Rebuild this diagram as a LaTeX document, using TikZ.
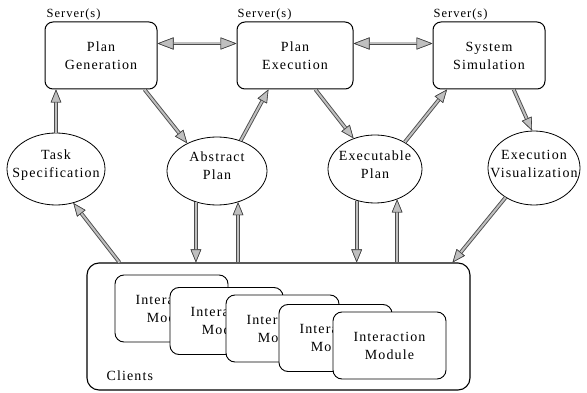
\documentclass[tikz,border=0pt]{standalone}
\usepackage{fontspec}
\setmainfont{Liberation Serif}[LetterSpace=8]
\usetikzlibrary{arrows.meta,shapes.geometric,calc}
\tikzset{
  >={Triangle[length=13pt,width=10.5pt,line width=0.6pt,color=black!75,fill=gray!50]},
  fat/.style={#1, preaction={draw=black!70, line width=3.8pt, #1}, draw=gray!50, line width=2.0pt},
  fat/.default={->},
  bigtip/.style={>={Triangle[length=16pt,width=12pt,line width=0.6pt,color=black!75,fill=gray!50]}},
  txt/.style={font=\fontsize{14}{18}\selectfont, align=center},
  srv/.style={draw, line width=1pt, rounded corners=8pt, minimum width=112pt, minimum height=67pt, inner sep=0pt, txt},
  ell/.style={draw, ellipse, line width=0.8pt, inner sep=0pt},
  mod/.style={draw, fill=white, line width=0.9pt, rounded corners=9pt, minimum width=113pt, minimum height=67pt, inner sep=0pt, txt},
  lbl/.style={font=\fontsize{12.5}{14}\selectfont, inner sep=1pt, anchor=south west}
}
\begin{document}
\begin{tikzpicture}[x=1pt,y=-1pt]
\useasboundingbox (0,0) rectangle (587,393);
% servers
\node[srv] (pg) at (101,55.5) {Plan\\Generation};
\node[srv, minimum width=116pt] (pe) at (295,55.5) {Plan\\Execution};
\node[srv] (ss) at (489,55.5) {System\\Simulation};
\node[lbl] (pgl) at ([xshift=1pt]pg.north west) {Server(s)};
\node[lbl] (pel) at (pe.north west) {Server(s)};
\node[lbl] (ssl) at (ss.north west) {Server(s)};
% ellipses
\node[ell, minimum width=98pt, minimum height=72pt] (ts) at (56,169) {};
\node[txt] (tst) at ([yshift=4pt]ts.center) {Task\\Specification};
\node[ell, minimum width=100pt, minimum height=68pt] (ap) at (217,171) {};
\node[txt] (apt) at ([yshift=5pt]ap.center) {Abstract\\Plan};
\node[ell, minimum width=94pt, minimum height=68pt] (ep) at (375,169) {};
\node[txt] (ept) at ([yshift=4pt]ep.center) {Executable\\Plan};
\node[ell, minimum width=92pt, minimum height=74pt] (ev) at (534,168) {};
\node[txt] (evt) at ([yshift=4pt]ev.center) {Execution\\Visualization};
% clients
\node[draw, line width=1.1pt, rounded corners=12pt, minimum width=383pt, minimum height=127pt] (cl) at (278.5,326.5) {};
\node[txt, anchor=base west, inner sep=0pt] (cll) at ($(cl.south west)+(20,-10)$) {Clients};
\node[mod] (m1) at (171.5,308.5) {Interaction\\Module};
\node[mod] (m2) at (226.5,321) {Interaction\\Module};
\node[mod] (m3) at (282.5,328.5) {Interaction\\Module};
\node[mod] (m4) at (335.5,338) {Interaction\\Module};
\node[mod] (m5) at (389.5,345.5) {Interaction\\Module};
% arrows
\draw[fat] (ts.north) -- (ts.north |- pg.south);
\draw[fat] (pg.-38.6) -- (ap.137);
\draw[fat] (ap.52) -- (pe.-128);
\draw[fat] (pe.-59) -- (ep.125);
\draw[fat] (ep.42) -- (ss.-141);
\draw[fat] (ss.-54) -- (ev.93);
\draw[bigtip, fat={<->}] ([yshift=12pt]pg.east) -- ([yshift=12pt]pe.west);
\draw[bigtip, fat={<->}] ([yshift=12pt]pe.east) -- ([yshift=12pt]ss.west);
\draw[fat] ($(cl.north west)+(33,0)$) -- (ts.-63);
\draw[fat] (ap.-124) -- (ap.-124 |- cl.north);
\draw[fat] (ap.-56 |- cl.north) -- (ap.-56);
\draw[fat] (ep.-120) -- (ep.-120 |- cl.north);
\draw[fat] (ep.-54 |- cl.north) -- (ep.-54);
\draw[fat] (ev.-134) -- ($(cl.north east)+(-18,0)$);
\end{tikzpicture}
\end{document}
